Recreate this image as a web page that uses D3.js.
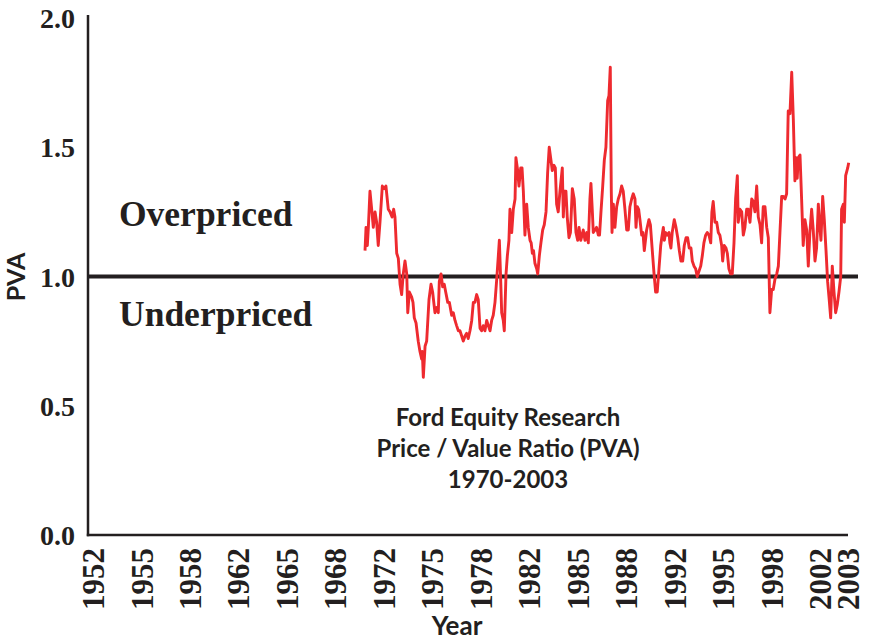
<!DOCTYPE html>
<html><head><meta charset="utf-8">
<script src="https://cdn.jsdelivr.net/npm/d3@7"></script>
<style>body{margin:0;background:#fff}</style></head>
<body>
<svg id="chart" width="869" height="641"></svg>
<script>
// [decimal year, PVA]
const pvaSeries = [
[1970.71,1.10],[1970.78,1.19],[1970.87,1.12],[1970.94,1.19],[1971.05,1.33],[1971.17,1.26],[1971.28,1.19],[1971.40,1.25],[1971.51,1.21],[1971.62,1.12],
[1971.74,1.21],[1971.90,1.35],[1972.04,1.34],[1972.15,1.35],[1972.31,1.26],[1972.43,1.25],[1972.57,1.23],[1972.68,1.26],[1972.77,1.23],[1972.89,1.09],
[1973.00,1.07],[1973.12,0.97],[1973.23,0.93],[1973.34,1.01],[1973.46,1.06],[1973.58,1.01],[1973.65,0.86],[1973.76,0.94],[1973.92,0.92],[1974.01,0.90],
[1974.10,0.84],[1974.22,0.82],[1974.37,0.75],[1974.49,0.71],[1974.61,0.68],[1974.65,0.71],[1974.72,0.61],[1974.84,0.73],[1974.95,0.75],[1975.11,0.91],
[1975.25,0.97],[1975.36,0.94],[1975.52,0.86],[1975.64,0.88],[1975.75,0.86],[1975.82,0.98],[1975.94,1.01],[1976.05,0.96],[1976.16,0.97],[1976.26,0.94],
[1976.40,0.90],[1976.51,0.90],[1976.67,0.85],[1976.78,0.86],[1976.90,0.83],[1977.01,0.81],[1977.13,0.79],[1977.24,0.79],[1977.36,0.77],[1977.47,0.75],
[1977.59,0.77],[1977.70,0.78],[1977.81,0.76],[1977.93,0.79],[1978.05,0.83],[1978.16,0.90],[1978.27,0.90],[1978.39,0.93],[1978.50,0.91],[1978.62,0.80],
[1978.73,0.79],[1978.84,0.81],[1978.96,0.79],[1979.08,0.83],[1979.19,0.81],[1979.31,0.79],[1979.42,0.83],[1979.53,0.85],[1979.65,0.90],[1979.77,0.99],
[1979.88,1.08],[1979.95,1.14],[1980.04,0.99],[1980.11,0.86],[1980.22,0.83],[1980.29,0.79],[1980.41,1.01],[1980.50,1.08],[1980.61,1.14],[1980.68,1.26],
[1980.80,1.17],[1980.91,1.26],[1981.03,1.30],[1981.09,1.46],[1981.21,1.41],[1981.30,1.35],[1981.42,1.42],[1981.51,1.42],[1981.60,1.33],[1981.71,1.16],
[1981.83,1.28],[1981.94,1.19],[1982.06,1.14],[1982.14,1.13],[1982.22,1.09],[1982.30,1.10],[1982.40,1.05],[1982.52,1.03],[1982.59,1.01],[1982.70,1.08],
[1982.81,1.13],[1982.93,1.18],[1983.04,1.20],[1983.16,1.25],[1983.27,1.40],[1983.38,1.50],[1983.50,1.45],[1983.59,1.41],[1983.71,1.43],[1983.80,1.42],
[1983.89,1.28],[1984.00,1.25],[1984.12,1.33],[1984.28,1.42],[1984.35,1.23],[1984.42,1.33],[1984.53,1.33],[1984.62,1.23],[1984.74,1.15],[1984.84,1.17],
[1984.97,1.34],[1985.10,1.30],[1985.22,1.17],[1985.34,1.14],[1985.43,1.19],[1985.55,1.14],[1985.64,1.16],[1985.72,1.18],[1985.84,1.14],[1985.96,1.17],
[1986.07,1.13],[1986.18,1.30],[1986.25,1.36],[1986.34,1.26],[1986.41,1.17],[1986.53,1.18],[1986.64,1.19],[1986.76,1.16],[1986.84,1.16],[1986.94,1.25],
[1987.06,1.35],[1987.17,1.45],[1987.28,1.50],[1987.40,1.68],[1987.49,1.70],[1987.58,1.81],[1987.65,1.33],[1987.70,1.17],[1987.79,1.28],[1987.90,1.19],
[1988.02,1.27],[1988.13,1.30],[1988.25,1.32],[1988.36,1.35],[1988.47,1.33],[1988.59,1.26],[1988.71,1.18],[1988.82,1.18],[1988.93,1.27],[1989.05,1.30],
[1989.16,1.32],[1989.28,1.30],[1989.35,1.19],[1989.44,1.27],[1989.53,1.26],[1989.62,1.22],[1989.74,1.16],[1989.83,1.17],[1989.92,1.10],[1990.08,1.18],
[1990.24,1.22],[1990.34,1.20],[1990.47,1.10],[1990.59,1.01],[1990.70,0.94],[1990.81,0.94],[1990.93,1.03],[1991.05,1.12],[1991.12,1.15],[1991.23,1.19],
[1991.30,1.14],[1991.39,1.17],[1991.50,1.16],[1991.62,1.17],[1991.68,1.13],[1991.75,1.11],[1991.84,1.17],[1991.98,1.22],[1992.10,1.19],[1992.22,1.15],
[1992.33,1.10],[1992.44,1.06],[1992.56,1.06],[1992.67,1.12],[1992.79,1.15],[1992.90,1.15],[1993.01,1.11],[1993.13,1.11],[1993.22,1.06],[1993.34,1.04],
[1993.45,1.03],[1993.56,1.00],[1993.68,1.02],[1993.80,1.04],[1993.91,1.08],[1994.02,1.13],[1994.14,1.16],[1994.25,1.17],[1994.37,1.16],[1994.49,1.13],
[1994.57,1.25],[1994.66,1.29],[1994.78,1.21],[1994.90,1.21],[1995.01,1.17],[1995.12,1.16],[1995.24,1.12],[1995.31,1.06],[1995.42,1.12],[1995.54,1.11],
[1995.63,1.09],[1995.74,1.03],[1995.86,1.01],[1995.97,1.01],[1996.09,1.13],[1996.20,1.30],[1996.32,1.39],[1996.38,1.21],[1996.50,1.26],[1996.62,1.25],
[1996.73,1.16],[1996.84,1.19],[1996.96,1.26],[1997.07,1.26],[1997.19,1.21],[1997.31,1.30],[1997.42,1.29],[1997.53,1.25],[1997.65,1.35],[1997.76,1.23],
[1997.88,1.20],[1997.99,1.13],[1998.10,1.27],[1998.22,1.27],[1998.34,1.19],[1998.45,1.15],[1998.56,0.86],[1998.68,0.95],[1998.79,0.95],[1998.91,0.99],
[1999.03,1.01],[1999.14,1.04],[1999.25,1.17],[1999.37,1.31],[1999.48,1.31],[1999.60,1.30],[1999.71,1.32],[1999.82,1.64],[1999.94,1.63],[2000.06,1.79],
[2000.17,1.61],[2000.28,1.37],[2000.35,1.46],[2000.44,1.38],[2000.51,1.46],[2000.63,1.47],[2000.74,1.30],[2000.85,1.12],[2000.97,1.22],[2001.09,1.18],
[2001.20,1.04],[2001.31,1.17],[2001.43,1.26],[2001.54,1.18],[2001.66,1.06],[2001.77,1.11],[2001.89,1.28],[2001.98,1.20],[2002.07,1.14],[2002.19,1.31],
[2002.30,1.22],[2002.42,1.10],[2002.53,0.98],[2002.64,0.91],[2002.74,0.84],[2002.85,1.04],[2002.97,0.94],[2003.08,0.86],[2003.19,0.89],[2003.31,0.94],
[2003.43,1.00],[2003.49,1.26],[2003.61,1.28],[2003.68,1.21],[2003.77,1.39],[2003.91,1.42],[2003.98,1.44]
];
const xTickLabels = ["1952","1955","1958","1962","1965","1968","1972","1975","1978","1982","1985","1988","1992","1995","1998","2002","2003"];
const yTickValues = [0.0, 0.5, 1.0, 1.5, 2.0];
const referenceValue = 1.0;
const zoneLabels = ["Overpriced", "Underpriced"];
const titleLines = ["Ford Equity Research", "Price / Value Ratio (PVA)", "1970-2003"];
const xAxisTitle = "Year";
const yAxisTitle = "PVA";

const ink = "#231f20";
const red = "#ee2a2f";
const serif = "'Liberation Serif','Times New Roman',serif";
const sans = "Lato,'Open Sans',sans-serif";

const svg = d3.select("#chart");
const x = d3.scaleLinear().domain([1952, 2004]).range([93, 849]);
const y = d3.scaleLinear().domain([0, 2]).range([535, 18]);
const axisX = 88;

// reference line at 1.0
svg.append("line")
  .attr("x1", axisX).attr("x2", 858)
  .attr("y1", y(referenceValue)).attr("y2", y(referenceValue))
  .attr("stroke", ink).attr("stroke-width", 4);

// series line
const line = d3.line().x(d => x(d[0])).y(d => y(d[1]));
svg.append("path").datum(pvaSeries)
  .attr("d", line).attr("fill", "none")
  .attr("stroke", red).attr("stroke-width", 2.9)
  .attr("stroke-linejoin", "round");

// y axis
const yAxis = svg.append("g").attr("transform", `translate(${axisX},0)`)
  .call(d3.axisLeft(y).tickValues(yTickValues).tickFormat(d3.format(".1f"))
    .tickSize(0).tickPadding(13));
yAxis.select(".domain").remove();
yAxis.selectAll("text").attr("font-family", serif).attr("font-weight", "bold")
  .attr("font-size", 28).attr("fill", ink).attr("dy", "0.34em");
svg.append("line").attr("x1", axisX).attr("x2", axisX).attr("y1", 15).attr("y2", y(0) + 1.2)
  .attr("stroke", ink).attr("stroke-width", 2.5);

// x axis
const tickPos = xTickLabels.map((d, i) => i < xTickLabels.length - 1 ? 1952 + i * 10 / 3 : 2003.95);
const xAxis = svg.append("g").attr("transform", `translate(0,${y(0)})`)
  .call(d3.axisBottom(x).tickValues(tickPos).tickFormat((d, i) => xTickLabels[i])
    .tickSize(0).tickPadding(0));
xAxis.select(".domain").remove();
xAxis.selectAll("text")
  .attr("font-family", serif).attr("font-weight", "bold").attr("font-size", 31)
  .attr("fill", ink)
  .attr("text-anchor", "end")
  .attr("transform", "translate(0,13) rotate(-90)")
  .attr("y", 0).attr("x", 0).attr("dy", "0.34em");
svg.append("line").attr("x1", axisX - 1.2).attr("x2", 848).attr("y1", y(0)).attr("y2", y(0))
  .attr("stroke", ink).attr("stroke-width", 2.5);

// zone labels
svg.append("text").attr("x", 119).attr("y", 226).text(zoneLabels[0])
  .attr("font-family", serif).attr("font-weight", "bold").attr("font-size", 35.5).attr("fill", ink);
svg.append("text").attr("x", 119).attr("y", 326).text(zoneLabels[1])
  .attr("font-family", serif).attr("font-weight", "bold").attr("font-size", 35.5).attr("fill", ink);

// title block
svg.append("g").selectAll("text").data(titleLines).join("text")
  .attr("x", 508).attr("y", (d, i) => 426 + i * 31)
  .attr("text-anchor", "middle")
  .attr("font-family", sans).attr("font-weight", "bold").attr("font-size", 24)
  .attr("fill", ink).text(d => d);

// axis titles
svg.append("text").attr("x", 457).attr("y", 635).attr("text-anchor", "middle")
  .attr("font-family", sans).attr("font-weight", "bold").attr("font-size", 26)
  .attr("fill", ink).text(xAxisTitle);
svg.append("text").attr("transform", "translate(16,277) rotate(-90)")
  .attr("text-anchor", "middle").attr("dy", "0.35em")
  .attr("font-family", sans).attr("font-weight", "bold").attr("font-size", 25)
  .attr("fill", ink).text(yAxisTitle);
</script>
</body></html>
